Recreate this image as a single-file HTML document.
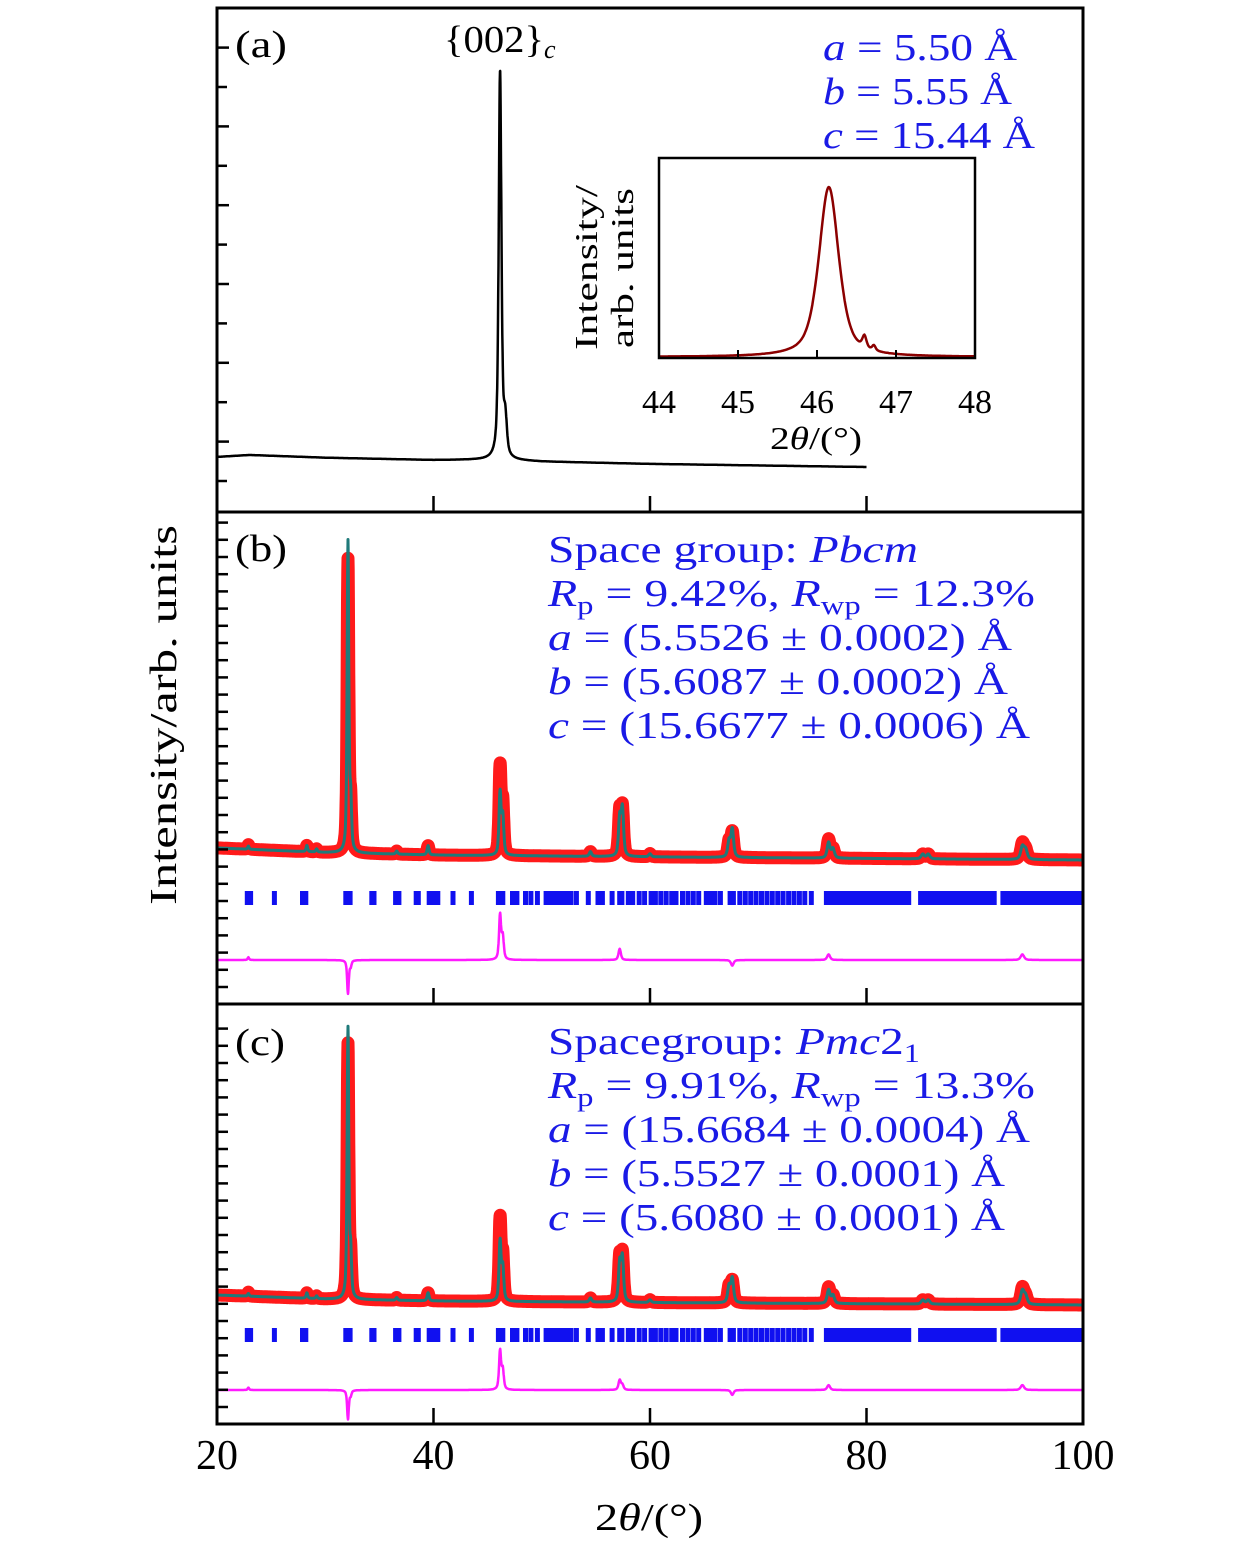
<!DOCTYPE html>
<html><head><meta charset="utf-8">
<style>
html,body{margin:0;padding:0;background:#fff;}
svg{display:block;}
text{font-family:"Liberation Serif",serif;}
</style></head>
<body>
<svg id="chart" width="1260" height="1543" viewBox="0 0 1260 1543" xmlns="http://www.w3.org/2000/svg">
<g id="marks"></g>
<g id="frames" fill="none" stroke="#000" stroke-width="3">
 <rect x="217" y="8" width="866" height="1416"/>
 <line x1="217" y1="512" x2="1083" y2="512"/>
 <line x1="217" y1="1004" x2="1083" y2="1004"/>
 <rect x="659" y="158" width="316" height="200" stroke-width="2.5"/>
</g>
<g id="texts" font-size="38">
 <text x="235" y="57" textLength="52" lengthAdjust="spacingAndGlyphs">(a)</text>
 <text x="235" y="561" textLength="52" lengthAdjust="spacingAndGlyphs">(b)</text>
 <text x="235" y="1055" textLength="50" lengthAdjust="spacingAndGlyphs">(c)</text>
 <text x="444" y="52"><tspan textLength="100" lengthAdjust="spacingAndGlyphs">{002}</tspan><tspan font-style="italic" font-size="26" dy="6">c</tspan></text>
 <g fill="#1a1ae6">
  <text x="823" y="60" textLength="194" lengthAdjust="spacingAndGlyphs"><tspan font-style="italic">a</tspan> = 5.50 Å</text>
  <text x="823" y="104" textLength="189" lengthAdjust="spacingAndGlyphs"><tspan font-style="italic">b</tspan> = 5.55 Å</text>
  <text x="823" y="148" textLength="212" lengthAdjust="spacingAndGlyphs"><tspan font-style="italic">c</tspan> = 15.44 Å</text>
 </g>
 <g fill="#1a1ae6">
  <text x="548" y="562" textLength="370" lengthAdjust="spacingAndGlyphs">Space group: <tspan font-style="italic">Pbcm</tspan></text>
  <text x="548" y="606" textLength="487" lengthAdjust="spacingAndGlyphs"><tspan font-style="italic">R</tspan><tspan font-size="26" dy="8">p</tspan><tspan dy="-8"> = 9.42%, </tspan><tspan font-style="italic">R</tspan><tspan font-size="26" dy="8">wp</tspan><tspan dy="-8"> = 12.3%</tspan></text>
  <text x="548" y="650" textLength="464" lengthAdjust="spacingAndGlyphs"><tspan font-style="italic">a</tspan> = (5.5526 ± 0.0002) Å</text>
  <text x="548" y="694" textLength="460" lengthAdjust="spacingAndGlyphs"><tspan font-style="italic">b</tspan> = (5.6087 ± 0.0002) Å</text>
  <text x="548" y="738" textLength="482" lengthAdjust="spacingAndGlyphs"><tspan font-style="italic">c</tspan> = (15.6677 ± 0.0006) Å</text>
 </g>
 <g fill="#1a1ae6">
  <text x="548" y="1054" textLength="372" lengthAdjust="spacingAndGlyphs">Spacegroup: <tspan font-style="italic">Pmc</tspan>2<tspan font-size="26" dy="8">1</tspan></text>
  <text x="548" y="1098" textLength="487" lengthAdjust="spacingAndGlyphs"><tspan font-style="italic">R</tspan><tspan font-size="26" dy="8">p</tspan><tspan dy="-8"> = 9.91%, </tspan><tspan font-style="italic">R</tspan><tspan font-size="26" dy="8">wp</tspan><tspan dy="-8"> = 13.3%</tspan></text>
  <text x="548" y="1142" textLength="482" lengthAdjust="spacingAndGlyphs"><tspan font-style="italic">a</tspan> = (15.6684 ± 0.0004) Å</text>
  <text x="548" y="1186" textLength="457" lengthAdjust="spacingAndGlyphs"><tspan font-style="italic">b</tspan> = (5.5527 ± 0.0001) Å</text>
  <text x="548" y="1230" textLength="457" lengthAdjust="spacingAndGlyphs"><tspan font-style="italic">c</tspan> = (5.6080 ± 0.0001) Å</text>
 </g>
 <text x="595" y="1530" textLength="108" lengthAdjust="spacingAndGlyphs">2<tspan font-style="italic">θ</tspan>/(°)</text>
 <text transform="translate(176,905) rotate(-90)" textLength="380" lengthAdjust="spacingAndGlyphs">Intensity/arb. units</text>
 <g font-size="32">
  <text transform="translate(597,350) rotate(-90)" textLength="165" lengthAdjust="spacingAndGlyphs">Intensity/</text>
  <text transform="translate(633,348) rotate(-90)" textLength="160" lengthAdjust="spacingAndGlyphs">arb. units</text>
 </g>
 <text x="770" y="449" font-size="32" textLength="92" lengthAdjust="spacingAndGlyphs">2<tspan font-style="italic">θ</tspan>/(°)</text>
</g>
</svg>
<script>
// ---------- data ----------
const xTicks = [20, 40, 60, 80, 100];
const insetTicks = [44, 45, 46, 47, 48];
// panel (a) film pattern
const aPeakPos = [46.15, 46.6, 46.72];
const aPeakH = [100, 7, 3];
const aPeakW = [0.3, 0.06, 0.05];
const aBgX = [20, 23, 30, 40, 46, 50, 60, 80];
const aBgY = [2.6, 3.1, 2.4, 1.8, 1.9, 1.4, 0.8, 0];
// panel (b) Pbcm refinement
const bPeakPos = [22.9, 28.3, 29.2, 32.1, 32.35, 36.6, 39.5, 46.15, 46.4, 54.5, 57.2, 57.45, 60.0, 67.3, 67.6, 76.5, 76.9, 85.2, 85.7, 94.4, 94.7];
const bCalcH = [1, 2, 1, 100, 15, 1, 3, 20, 12, 1.5, 12, 15, 1, 5, 9, 5, 3, 1.5, 1.5, 4, 3];
const bObsH  = [1.5, 2, 1, 94, 14, 1, 3, 28, 16, 1.5, 14, 15, 1, 5, 8, 6, 3, 1.5, 1.5, 5, 3];
const bBgX = [20, 30, 40, 60, 100];
const bBgY = [3.9, 2.4, 1.6, 1.0, 0];
// panel (c) Pmc21 refinement
const cPeakPos = bPeakPos;
const cCalcH = [1, 2, 1, 100, 15, 1, 3, 22, 12, 1.5, 14, 16, 1, 6, 9, 5, 3, 1.5, 1.5, 5, 3];
const cObsH  = [1.5, 2, 1, 94, 14, 1, 3, 30, 16, 1.5, 16, 17, 1, 6, 8, 6, 3, 1.5, 1.5, 6, 3];
const cBgX = [20, 30, 40, 60, 100];
const cBgY = [3.7, 2.2, 1.5, 0.9, 0];
// Bragg reflection positions
const reflections = [22.8,23.1,25.3,27.9,28.2,31.9,32.1,32.3,34.3,34.5,36.5,36.8,38.4,38.6,39.6,40.0,40.4,41.8,43.5,
 46.0,46.2,46.4,47.3,47.7,48.5,49.0,49.6,50.4,50.7,51.1,51.5,51.9,52.3,52.7,53.2,54.3,55.2,55.6,56.5,
 57.2,57.4,58.0,58.4,59.0,59.5,60.1,60.5,61.0,61.5,62.0,62.4,63.0,63.5,64.0,64.5,65.2,65.6,66.0,66.5,
 67.4,67.7,68.3,68.8,69.3,69.8,70.3,70.8,71.3,71.8,72.3,72.8,73.3,73.8,74.3,74.9,
 76.3,76.7,77.1,77.5,77.9,78.3,78.7,79.1,79.5,79.9,80.3,80.7,81.1,81.5,81.9,82.3,82.7,83.1,83.5,83.9,
 85.0,85.4,85.8,86.2,86.6,87.0,87.4,87.8,88.2,88.6,89.0,89.4,89.8,90.2,90.6,91.0,91.4,91.8,
 92.6,93.0,93.4,93.8,94.2,94.6,95.0,95.4,95.8,96.2,96.6,97.0,97.4,97.8,98.2,98.6,99.0,99.4,99.8];

// ---------- scales ----------
const X0 = 217, X1 = 1083;
const xs = v => X0 + (v - 20) / 80 * (X1 - X0);
const ixs = v => 659 + (v - 44) / 4 * 316;
const NS = "http://www.w3.org/2000/svg";
const marks = document.getElementById("marks");
function interp(xArr, yArr, x) {
  if (x <= xArr[0]) return yArr[0];
  for (let i = 1; i < xArr.length; i++) if (x <= xArr[i]) {
    const t = (x - xArr[i-1]) / (xArr[i] - xArr[i-1]);
    return yArr[i-1] + t * (yArr[i] - yArr[i-1]);
  }
  return yArr[yArr.length-1];
}
function profile(x, pos, h, wBase, widths) {
  let s = 0;
  for (let i = 0; i < pos.length; i++) {
    const w = widths ? widths[i] : wBase + 0.003 * (pos[i] - 20);
    const d = (x - pos[i]) / (w / 2);
    s += h[i] * (0.6 / (1 + d*d) + 0.4 * Math.exp(-0.693 * d*d));
  }
  return s;
}
function mkPath(pts, stroke, sw, name) {
  const p = document.createElementNS(NS, "path");
  p.setAttribute("d", "M" + pts.map(q => q[0].toFixed(1) + "," + q[1].toFixed(1)).join("L"));
  p.setAttribute("fill", "none");
  p.setAttribute("stroke", stroke);
  p.setAttribute("stroke-width", sw);
  p.setAttribute("stroke-linejoin", "round");
  
  
  marks.appendChild(p);
  return p;
}
function mkLine(x1, y1, x2, y2, sw, name, col) {
  const l = document.createElementNS(NS, "line");
  l.setAttribute("x1", x1); l.setAttribute("y1", y1);
  l.setAttribute("x2", x2); l.setAttribute("y2", y2);
  l.setAttribute("stroke", col || "#000"); l.setAttribute("stroke-width", sw);
  
  
  marks.appendChild(l);
}
function mkText(x, y, s, size, name) {
  const t = document.createElementNS(NS, "text");
  t.setAttribute("x", x); t.setAttribute("y", y);
  t.setAttribute("font-size", size); t.setAttribute("text-anchor", "middle");
  t.textContent = s;
  
  
  document.getElementById("chart").appendChild(t);
}

// ---------- panel (a) ----------
(function(){
  const base = 467, k = 3.88, pts = [];
  for (let x = 20; x <= 80.001; x += 0.02)
    pts.push([xs(x), base - k * (interp(aBgX, aBgY, x) + profile(x, aPeakPos, aPeakH, 0.22))]);
  mkPath(pts, "#000", 2.5, "panel-a-pattern");
  // inset
  const ib = 357, ik = 1.7, ipts = [];
  for (let x = 44; x <= 48.001; x += 0.01)
    ipts.push([ixs(x), ib - ik * profile(x, aPeakPos, aPeakH, 0.3, aPeakW)]);
  mkPath(ipts, "#8b0000", 2.5, "inset-pattern");
  insetTicks.forEach(v => {
    if (v > 44 && v < 48) mkLine(ixs(v), 358, ixs(v), 350, 2, "inset-x-tick");
    mkText(ixs(v), 413, String(v), 34, "inset-x-tick-label");
  });
})();

// ---------- panels (b),(c) ----------
function refinement(pos, calcH, obsH, bgX, bgY, base, k, tickY, diffY, tag) {
  const obs = [], calc = [], diff = [];
  for (let x = 20; x <= 100.001; x += 0.02) {
    const bg = interp(bgX, bgY, x);
    const c = profile(x, pos, calcH, 0.15), o = profile(x, pos, obsH, 0.15);
    calc.push([xs(x), base - k * (bg + c)]);
    obs.push([xs(x), base - k * (bg + o)]);
    diff.push([xs(x), diffY - 1.8 * k * (o - c)]);
  }
  mkPath(obs, "#ff1a1a", 13, tag + "-observed");
  mkPath(calc, "#1f7a7a", 3, tag + "-calculated");
  mkPath(diff, "#ff1aff", 2.5, tag + "-difference");
  reflections.forEach(v => {
    const r = document.createElementNS(NS, "rect");
    r.setAttribute("x", (xs(v) - 2.5).toFixed(1)); r.setAttribute("y", tickY - 7);
    r.setAttribute("width", 5); r.setAttribute("height", 14);
    r.setAttribute("fill", "#1010f0");
    
    
    marks.appendChild(r);
  });
}
refinement(bPeakPos, bCalcH, bObsH, bBgX, bBgY, 860, 3.1, 898, 960, "panel-b");
refinement(cPeakPos, cCalcH, cObsH, cBgX, cBgY, 1305, 2.7, 1335, 1390, "panel-c");

// ---------- axes ticks ----------
xTicks.forEach(v => {
  if (v > 20 && v < 100) [512, 1004, 1424].forEach(yb => mkLine(xs(v), yb, xs(v), yb - 16, 2.5, "x-tick"));
  mkText(xs(v), 1469, String(v), 42, "x-tick-label");
});
for (let y = 481, i = 0; y > 20; y -= 39.4, i++) mkLine(217, y, 217 + (i % 2 ? 12 : 10), y, 2.5, "panel-a-y-tick");
for (let y = 987; y > 520; y -= 17.2) mkLine(217, y, 228, y, 2.5, "panel-b-y-tick");
for (let y = 1407; y > 1012; y -= 17.2) mkLine(217, y, 228, y, 2.5, "panel-c-y-tick");
</script>
</body></html>
